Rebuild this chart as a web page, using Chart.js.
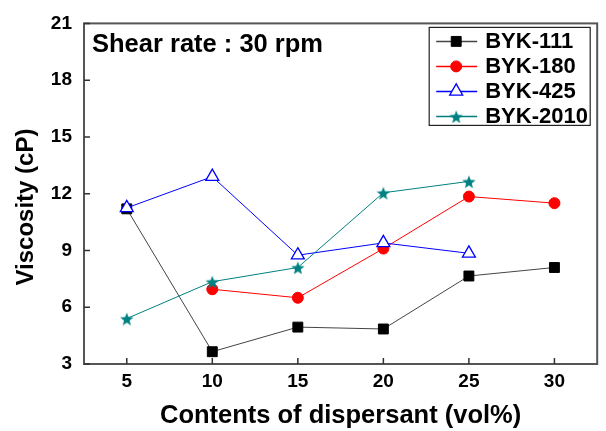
<!DOCTYPE html>
<html>
<head>
<meta charset="utf-8">
<script src="https://cdn.jsdelivr.net/npm/chart.js@4.4.1/dist/chart.umd.min.js"></script>
<style>
  html, body { margin: 0; padding: 0; background: #fff; }
  #wrap { width: 606px; height: 431px; }
</style>
</head>
<body>
<div id="wrap"><canvas id="myChart"></canvas></div>
<script>
const contents = [5, 10, 15, 20, 25, 30];
const byk111 = [11.2, 3.65, 4.95, 4.85, 7.65, 8.1];
const byk180 = [null, 6.95, 6.5, 9.1, 11.85, 11.5];
const byk425 = [11.25, 12.9, 8.75, 9.4, 8.85, null];
const byk2010 = [5.4, 7.35, 8.1, 12.05, 12.65, null];
const seriesNames = ['BYK-111', 'BYK-180', 'BYK-425', 'BYK-2010'];
const xTicks = [5, 10, 15, 20, 25, 30];
const yTicks = [3, 6, 9, 12, 15, 18, 21];

function toPoints(values) {
    return contents.map((x, i) => ({x: x, y: values[i]})).filter(p => p.y !== null);
}

// filled five point star, the built-in 'star' is only an asterisk
function makeStar(color, size) {
    const c = document.createElement('canvas');
    c.width = size; c.height = size;
    const g = c.getContext('2d');
    const r = size / 2, ri = r * 0.42;
    g.beginPath();
    for (let i = 0; i < 10; i++) {
        const a = -Math.PI / 2 + i * Math.PI / 5;
        const rr = i % 2 ? ri : r;
        g.lineTo(r + rr * Math.cos(a), r + 1 + rr * Math.sin(a));
    }
    g.closePath();
    g.fillStyle = color;
    g.fill();
    return c;
}
const star = makeStar('#008080', 14);

const frame = {
    id: 'frame',
    afterDatasetsDraw(chart) {
        const {ctx, chartArea: a, scales} = chart;
        ctx.save();
        ctx.strokeStyle = '#555';
        ctx.lineWidth = 2;
        ctx.strokeRect(a.left, a.top, a.right - a.left, a.bottom - a.top);
        // ticks point inwards
        ctx.lineWidth = 1.5;
        ctx.strokeStyle = '#333';
        ctx.beginPath();
        yTicks.forEach(v => {
            const y = scales.y.getPixelForValue(v);
            ctx.moveTo(a.left, y); ctx.lineTo(a.left + 6, y);
        });
        xTicks.forEach(v => {
            const x = scales.x.getPixelForValue(v);
            ctx.moveTo(x, a.bottom); ctx.lineTo(x, a.bottom - 6);
        });
        ctx.stroke();

        ctx.fillStyle = '#000';
        ctx.font = 'bold 25.5px "Liberation Sans", Arial, sans-serif';
        ctx.textBaseline = 'alphabetic';
        ctx.fillText('Shear rate : 30 rpm', a.left + 8, a.top + 29);

        // legend box
        const bx = a.right - 168, by = a.top + 4, bw = 161, bh = 98;
        ctx.fillStyle = '#fff';
        ctx.fillRect(bx, by, bw, bh);
        ctx.lineWidth = 1.2;
        ctx.strokeStyle = '#222';
        ctx.strokeRect(bx, by, bw, bh);
        chart.data.datasets.forEach((ds, i) => {
            const y = by + 14 + i * 25;
            ctx.strokeStyle = ds.borderColor;
            ctx.lineWidth = 1.5;
            ctx.beginPath();
            ctx.moveTo(bx + 7, y); ctx.lineTo(bx + 48, y);
            ctx.stroke();
            ctx.fillStyle = ds.pointBackgroundColor;
            ctx.strokeStyle = ds.pointBorderColor;
            ctx.lineWidth = ds.pointBorderWidth;
            Chart.helpers.drawPoint(ctx, {
                pointStyle: ds.pointStyle, radius: ds.pointRadius,
                rotation: 0, borderWidth: ds.pointBorderWidth
            }, bx + 27, y);
            ctx.fillStyle = '#000';
            ctx.font = 'bold 22px "Liberation Sans", Arial, sans-serif';
            ctx.textBaseline = 'middle';
            ctx.fillText(ds.label, bx + 56, y + 1);
        });
        ctx.restore();
    }
};

const ctx = document.getElementById('myChart');

new Chart(ctx, {
    type: 'line',
    data: {
        datasets: [{
            label: seriesNames[0],
            data: toPoints(byk111),
            borderColor: '#444',
            borderWidth: 1,
            pointStyle: 'rect',
            pointRadius: 7,
            pointBackgroundColor: '#000',
            pointBorderColor: '#000',
            pointBorderWidth: 1,
            order: 4
        }, {
            label: seriesNames[1],
            data: toPoints(byk180),
            borderColor: '#ff0000',
            borderWidth: 1,
            pointStyle: 'circle',
            pointRadius: 5.5,
            pointBackgroundColor: '#ff0000',
            pointBorderColor: '#ff0000',
            pointBorderWidth: 1,
            order: 3
        }, {
            label: seriesNames[2],
            data: toPoints(byk425),
            borderColor: '#0000ff',
            borderWidth: 1,
            pointStyle: 'triangle',
            pointRadius: 7.5,
            pointBackgroundColor: '#fff',
            pointBorderColor: '#0000ff',
            pointBorderWidth: 1.3,
            order: 2
        }, {
            label: seriesNames[3],
            data: toPoints(byk2010),
            borderColor: '#008080',
            borderWidth: 1,
            pointStyle: star,
            pointRadius: 7,
            pointBackgroundColor: '#008080',
            pointBorderColor: '#008080',
            pointBorderWidth: 0,
            order: 1
        }]
    },
    options: {
        animation: false,
        responsive: true,
        maintainAspectRatio: false,
        devicePixelRatio: 1,
        layout: {padding: {top: 20, right: 3, left: 0, bottom: 0}},
        plugins: {
            legend: {display: false},
            tooltip: {enabled: false}
        },
        scales: {
            x: {
                type: 'linear',
                min: 2.5,
                max: 32.5,
                afterBuildTicks: s => { s.ticks = xTicks.map(v => ({value: v})); },
                afterFit: s => { s.height = 67; },
                grid: {display: false, drawTicks: false},
                border: {display: false},
                ticks: {
                    padding: 6,
                    color: '#000',
                    font: {family: '"Liberation Sans", Arial', size: 19, weight: 'bold'}
                },
                title: {
                    display: true,
                    text: 'Contents of dispersant (vol%)',
                    color: '#000',
                    padding: {top: 0, bottom: 0},
                    font: {family: '"Liberation Sans", Arial', size: 25.5, weight: 'bold'}
                }
            },
            y: {
                min: 3,
                max: 21,
                afterBuildTicks: s => { s.ticks = yTicks.map(v => ({value: v})); },
                afterFit: s => { s.width = 84; },
                grid: {display: false, drawTicks: false},
                border: {display: false},
                ticks: {
                    padding: 12,
                    color: '#000',
                    font: {family: '"Liberation Sans", Arial', size: 19, weight: 'bold'}
                },
                title: {
                    display: true,
                    text: 'Viscosity (cP)    ',
                    color: '#000',
                    padding: {top: 12, bottom: 0},
                    font: {family: '"Liberation Sans", Arial', size: 24, weight: 'bold'}
                }
            }
        }
    },
    plugins: [frame]
});
</script>
</body>
</html>
